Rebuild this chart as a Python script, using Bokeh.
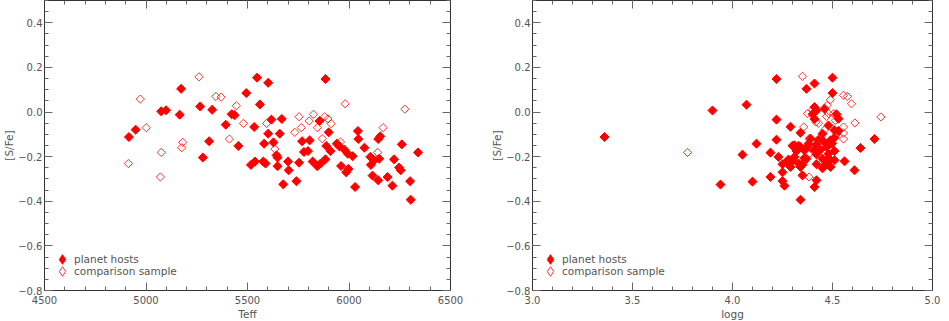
import numpy as np
from bokeh.plotting import figure
from bokeh.layouts import row
from bokeh.models import (FixedTicker, CustomJSTickFormatter, LinearAxis, Legend,
                          LegendItem, Range1d)
from bokeh.embed import file_html
from bokeh.resources import INLINE

# ---------------- data ----------------
# Left panel: Teff vs [S/Fe]
teff_hosts = [4916, 4949, 5075, 5099, 5166, 5173, 5267, 5280, 5326, 5311, 5393, 5422, 5435, 5455,
              5494, 5533, 5547, 5561, 5602, 5517, 5537, 5578, 5589, 5582, 5602, 5618, 5628, 5643,
              5648, 5648, 5659, 5669, 5676, 5700, 5703, 5741, 5754, 5769, 5778, 5806, 5798, 5821,
              5844, 5855, 5860, 5884, 5884, 5888, 5900, 5909, 5940, 5953, 5961, 5978, 5986, 5994,
              5997, 6018, 6030, 6044, 6046, 6076, 6105, 6108, 6116, 6124, 6144, 6154, 6149, 6144,
              6190, 6214, 6222, 6247, 6255, 6260, 6301, 6304, 6340]
sfe_hosts_teff = [-0.112, -0.079, 0.003, 0.008, -0.012, 0.104, 0.025, -0.204, 0.010, -0.131, -0.057,
                  -0.010, -0.013, -0.152, 0.085, -0.067, 0.154, 0.034, 0.131, -0.237, -0.222, -0.222,
                  -0.231, -0.142, -0.097, -0.034, -0.136, -0.194, -0.204, -0.243, -0.097, -0.031,
                  -0.324, -0.222, -0.261, -0.310, -0.227, -0.131, -0.179, -0.127, -0.175, -0.222,
                  -0.243, -0.040, -0.231, 0.148, -0.212, -0.152, -0.091, -0.175, -0.142, -0.154,
                  -0.242, -0.169, -0.270, -0.187, -0.255, -0.198, -0.336, -0.085, -0.121, -0.160,
                  -0.201, -0.237, -0.285, -0.216, -0.121, -0.109, -0.209, -0.306, -0.291, -0.330,
                  -0.212, -0.249, -0.261, -0.145, -0.310, -0.393, -0.181]
teff_comp = [4913, 4972, 5001, 5075, 5071, 5181, 5176, 5261, 5344, 5370, 5411, 5445, 5439, 5480,
             5594, 5635, 5733, 5754, 5765, 5804, 5825, 5844, 5868, 5880, 5896, 5912, 5958, 5981,
             6141, 6168, 6275]
sfe_comp_teff = [-0.231, 0.058, -0.070, -0.181, -0.291, -0.136, -0.160, 0.158, 0.070, 0.067, -0.121,
                 0.028, -0.015, -0.051, -0.051, -0.166, -0.091, -0.021, -0.070, -0.040, -0.010,
                 -0.070, -0.119, -0.021, -0.031, -0.052, -0.134, 0.037, -0.181, -0.070, 0.013]

# Right panel: logg vs [S/Fe]
logg_hosts = [3.36, 3.90, 3.94, 4.05, 4.07, 4.10, 4.12, 4.19, 4.19, 4.22, 4.22, 4.22, 4.23, 4.25,
              4.25, 4.25, 4.26, 4.29, 4.28, 4.29, 4.30, 4.31, 4.32, 4.33, 4.33, 4.34, 4.34, 4.34,
              4.35, 4.35, 4.36, 4.37, 4.37, 4.38, 4.39, 4.40, 4.41, 4.41, 4.41, 4.42, 4.41, 4.42,
              4.42, 4.42, 4.42, 4.43, 4.44, 4.45, 4.45, 4.46, 4.45, 4.47, 4.47, 4.48, 4.48, 4.49,
              4.49, 4.50, 4.50, 4.51, 4.51, 4.51, 4.52, 4.53, 4.53, 4.51, 4.56, 4.61, 4.64, 4.71,
              4.27, 4.30, 4.34, 4.31, 4.465, 4.49, 4.375, 4.408, 4.457, 4.498, 4.359]
sfe_hosts_logg = [-0.112, 0.007, -0.325, -0.191, 0.033, -0.312, -0.142, -0.182, -0.291, 0.148,
                  -0.034, -0.124, -0.201, -0.234, -0.270, -0.309, -0.330, -0.066, -0.213, -0.246,
                  -0.151, -0.201, -0.175, -0.231, -0.151, -0.246, -0.093, -0.393, -0.284, -0.236,
                  -0.172, 0.104, -0.209, -0.142, -0.119, -0.010, 0.022, 0.128, -0.031, -0.145,
                  -0.336, -0.306, 0.007, -0.190, -0.234, -0.124, -0.169, -0.097, -0.252, 0.015,
                  -0.209, -0.216, -0.157, -0.187, -0.060, -0.127, -0.246, 0.154, 0.085, -0.082,
                  -0.115, -0.175, -0.010, -0.030, -0.085, -0.216, -0.221, -0.261, -0.161, -0.121,
                  -0.225, -0.218, -0.157, -0.149, -0.237, -0.215, -0.155, -0.170, -0.133, -0.140,
                  -0.207]
logg_comp = [4.35, 4.555, 4.574, 4.595, 4.489, 4.473, 4.375, 4.416, 4.612, 4.481, 4.356, 4.555,
             4.555, 4.555, 4.742, 3.775, 4.383, 4.383, 4.391, 4.449, 4.489, 4.514, 4.506, 4.43,
             4.40, 4.46, 4.38, 4.52, 4.47, 4.41, 4.36]
sfe_comp_logg = [0.160, 0.075, 0.070, 0.037, 0.055, 0.030, -0.007, -0.045, -0.049, -0.007, -0.067,
                 -0.067, -0.094, -0.121, -0.022, -0.181, -0.291, -0.119, -0.160, -0.127, -0.145,
                 -0.037, -0.007, -0.050, 0.010, -0.080, -0.190, -0.100, -0.020, -0.140, -0.220]

y_ticks = [-0.8, -0.6, -0.4, -0.2, 0.0, 0.2, 0.4]
y_minor = [round(-0.8 + 0.05 * i, 2) for i in range(27)]
teff_ticks = [4500, 5000, 5500, 6000, 6500]
teff_minor = list(range(4500, 6501, 100))
logg_ticks = [3.0, 3.5, 4.0, 4.5, 5.0]
logg_minor = [round(3.0 + 0.1 * i, 1) for i in range(21)]
legend_labels = ["planet hosts", "comparison sample"]

FONT = "DejaVu Sans"
TXT = "#555555"
FRAME = "#333333"
TICK = "#666666"


def panel(xh, yh, xc, yc, xr, xt, xm, xlabel, xfmt, fw, mbl, mbr):
    p = figure(frame_width=fw, frame_height=290, x_range=Range1d(*xr),
               y_range=Range1d(-0.8, 0.5), output_backend="svg", toolbar_location=None,
               min_border_left=mbl, min_border_right=mbr, min_border_top=0,
               min_border_bottom=0, outline_line_color=FRAME, outline_line_width=1)
    p.grid.visible = False
    p.xaxis.ticker = FixedTicker(ticks=xt, minor_ticks=xm)
    p.yaxis.ticker = FixedTicker(ticks=y_ticks, minor_ticks=y_minor)
    p.xaxis.formatter = CustomJSTickFormatter(code="return tick.toFixed(%d)" % xfmt)
    p.yaxis.formatter = CustomJSTickFormatter(
        code="return tick.toFixed(1).replace('-', '\\u2212')")
    p.xaxis.axis_label = xlabel
    p.yaxis.axis_label = "[S/Fe]"
    for ax in (p.xaxis[0], p.yaxis[0]):
        ax.major_tick_in = 8
        ax.major_tick_out = 0
        ax.minor_tick_in = 4
        ax.minor_tick_out = 0
        ax.axis_line_color = FRAME
        ax.major_tick_line_color = TICK
        ax.minor_tick_line_color = TICK
        ax.major_label_text_font = FONT
        ax.major_label_text_font_size = "10px"
        ax.major_label_text_color = TXT
        ax.axis_label_text_font = FONT
        ax.axis_label_text_font_size = "10.5px"
        ax.axis_label_text_font_style = "normal"
        ax.axis_label_text_color = TXT
    p.xaxis.major_label_standoff = 5
    p.xaxis.axis_label_standoff = 1
    p.yaxis.major_label_standoff = 2
    p.yaxis.axis_label_standoff = 0

    # mirrored axes (ticks only, no labels)
    for loc, tk in (("above", FixedTicker(ticks=xt, minor_ticks=xm)),
                    ("right", FixedTicker(ticks=y_ticks, minor_ticks=y_minor))):
        ax = LinearAxis(ticker=tk, formatter=CustomJSTickFormatter(code="return ''"),
                        major_label_standoff=0,
                        major_tick_in=8, major_tick_out=0, minor_tick_in=4, minor_tick_out=0,
                        axis_line_color=FRAME, major_tick_line_color=TICK,
                        minor_tick_line_color=TICK)
        p.add_layout(ax, loc)

    p.scatter(xc, yc, marker="square", angle=np.pi / 4, size=5.8,
              fill_color=None, line_color="red", line_width=1, line_alpha=0.8)
    p.scatter(xh, yh, marker="square", angle=np.pi / 4, size=6.4,
              fill_color="red", line_color="red", line_width=1)
    # hidden legend proxies (same data, diamond glyph for the key)
    lh = p.scatter(xh, yh, marker="diamond", fill_color="red", line_color="red",
                   visible=False)
    lc = p.scatter(xc, yc, marker="diamond", fill_color=None, line_color="red",
                   line_alpha=0.8, visible=False)
    for i, (r, cy) in enumerate(((lh, 31.5), (lc, 19))):
        leg = Legend(items=[LegendItem(label=legend_labels[i], renderers=[r])],
                     location=(6, cy - 12), padding=0, spacing=0, margin=0,
                     glyph_width=24, glyph_height=24, label_height=24, label_standoff=-4,
                     label_text_font=FONT, label_text_font_size="10.5px",
                     label_text_color=TXT, border_line_alpha=0, background_fill_alpha=0)
        p.add_layout(leg)
    return p


p1 = panel(teff_hosts, sfe_hosts_teff, teff_comp, sfe_comp_teff, (4500, 6500),
           teff_ticks, teff_minor, "Teff", 0, 406, 39, 38)
p2 = panel(logg_hosts, sfe_hosts_logg, logg_comp, sfe_comp_logg, (3.0, 5.0),
           logg_ticks, logg_minor, "logg", 1, 400, 39, 12)

layout = row(p1, p2)
open("out.html", "w").write(file_html(layout, INLINE))
